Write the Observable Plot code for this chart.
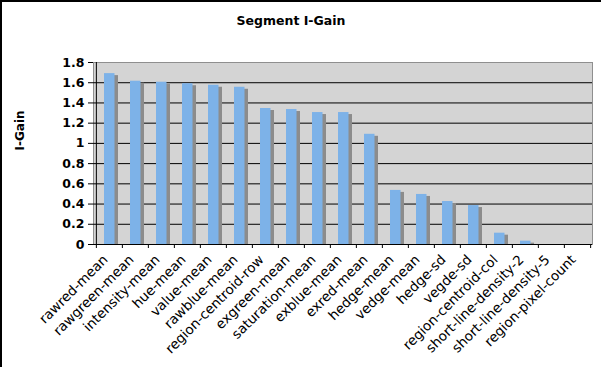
<!DOCTYPE html>
<html>
<head>
<meta charset="utf-8">
<script src="https://cdn.jsdelivr.net/npm/d3@7"></script>
<script src="https://cdn.jsdelivr.net/npm/@observablehq/plot@0.6"></script>
<style>
  html, body { margin: 0; padding: 0; background: white; }
  #wrap { position: relative; width: 601px; height: 367px; overflow: hidden; background: white; font-family: "DejaVu Sans", Verdana, sans-serif; }
  #title { position: absolute; top: 13px; left: 0; width: 582px; text-align: center; font-weight: bold; font-size: 12.5px; line-height: 15px; color: black; }
  #chart { position: absolute; top: 40px; left: 0; }
  #border { position: absolute; top: 0; left: 0; width: 601px; height: 367px; box-sizing: border-box; border-top: 2px solid black; border-left: 2px solid black; pointer-events: none; }
  g[aria-label="y-axis tick label"] text { font-weight: bold; }
</style>
</head>
<body>
<div id="wrap">
  <div id="title">Segment I-Gain</div>
  <div id="chart"></div>
  <div id="border"></div>
</div>
<script>
const categories = [
  "rawred-mean", "rawgreen-mean", "intensity-mean", "hue-mean", "value-mean",
  "rawblue-mean", "region-centroid-row", "exgreen-mean", "saturation-mean",
  "exblue-mean", "exred-mean", "hedge-mean", "vedge-mean", "hedge-sd", "vegde-sd",
  "region-centroid-col", "short-line-density-2", "short-line-density-5", "region-pixel-count"
];
const values = [
  1.69, 1.615, 1.605, 1.59, 1.575,
  1.555, 1.345, 1.335, 1.305,
  1.305, 1.09, 0.535, 0.495, 0.425, 0.385,
  0.112, 0.033, 0, 0
];
const yTicks = [0, 0.2, 0.4, 0.6, 0.8, 1, 1.2, 1.4, 1.6, 1.8];
const yLabel = "I-Gain";

const data = categories.map((c, i) => ({category: c, value: values[i]}));

const width = 601, height = 327;
const mL = 93, mR = 9, mT = 22, mB = 123;
const bw = (width - mL - mR) / categories.length;
const frameH = height - mT - mB;

const plot = Plot.plot({
  width, height,
  marginLeft: mL, marginRight: mR, marginTop: mT, marginBottom: mB,
  style: {fontFamily: "DejaVu Sans, Verdana, sans-serif", background: "white", color: "black", overflow: "visible"},
  x: {domain: categories, padding: 0, label: null},
  y: {domain: [0, 1.8], label: null},
  marks: [
    Plot.frame({fill: "#d4d4d4", stroke: "#8f8f8f"}),
    Plot.ruleY(yTicks.filter(t => t > 0 && t < 1.8), {stroke: "black", strokeWidth: 1}),
    Plot.barY(data, {x: "category", y: "value", fill: "#8c8c8c", insetLeft: 11, insetRight: 4, insetTop: 2}),
    Plot.barY(data, {x: "category", y: "value", fill: "#7db2e8", insetLeft: 8, insetRight: 7.5}),
    Plot.ruleY([0], {stroke: "black", strokeWidth: 1}),
    Plot.ruleX([categories[0]], {dx: -bw / 2, stroke: "black"}),
    Plot.ruleX(categories, {dx: -bw / 2, stroke: "black", insetTop: frameH, insetBottom: -4}),
    Plot.ruleX([categories[categories.length - 1]], {dx: bw / 2, stroke: "black", insetTop: frameH, insetBottom: -4}),
    Plot.axisY({ticks: yTicks, tickSize: 5, tickPadding: 4, fontSize: 12.5, fontWeight: "bold",
                tickFormat: d => String(+d.toFixed(1)), label: null}),
    Plot.axisX({tickSize: 0, tickRotate: -45, tickPadding: 13, dx: -4, fontSize: 13.5, label: null}),
    Plot.text([yLabel], {text: d => d, frameAnchor: "left", dx: -73, dy: -3, rotate: -90,
                         fontWeight: "bold", fontSize: 12, fill: "black"})
  ]
});
document.getElementById("chart").appendChild(plot);
</script>
</body>
</html>
